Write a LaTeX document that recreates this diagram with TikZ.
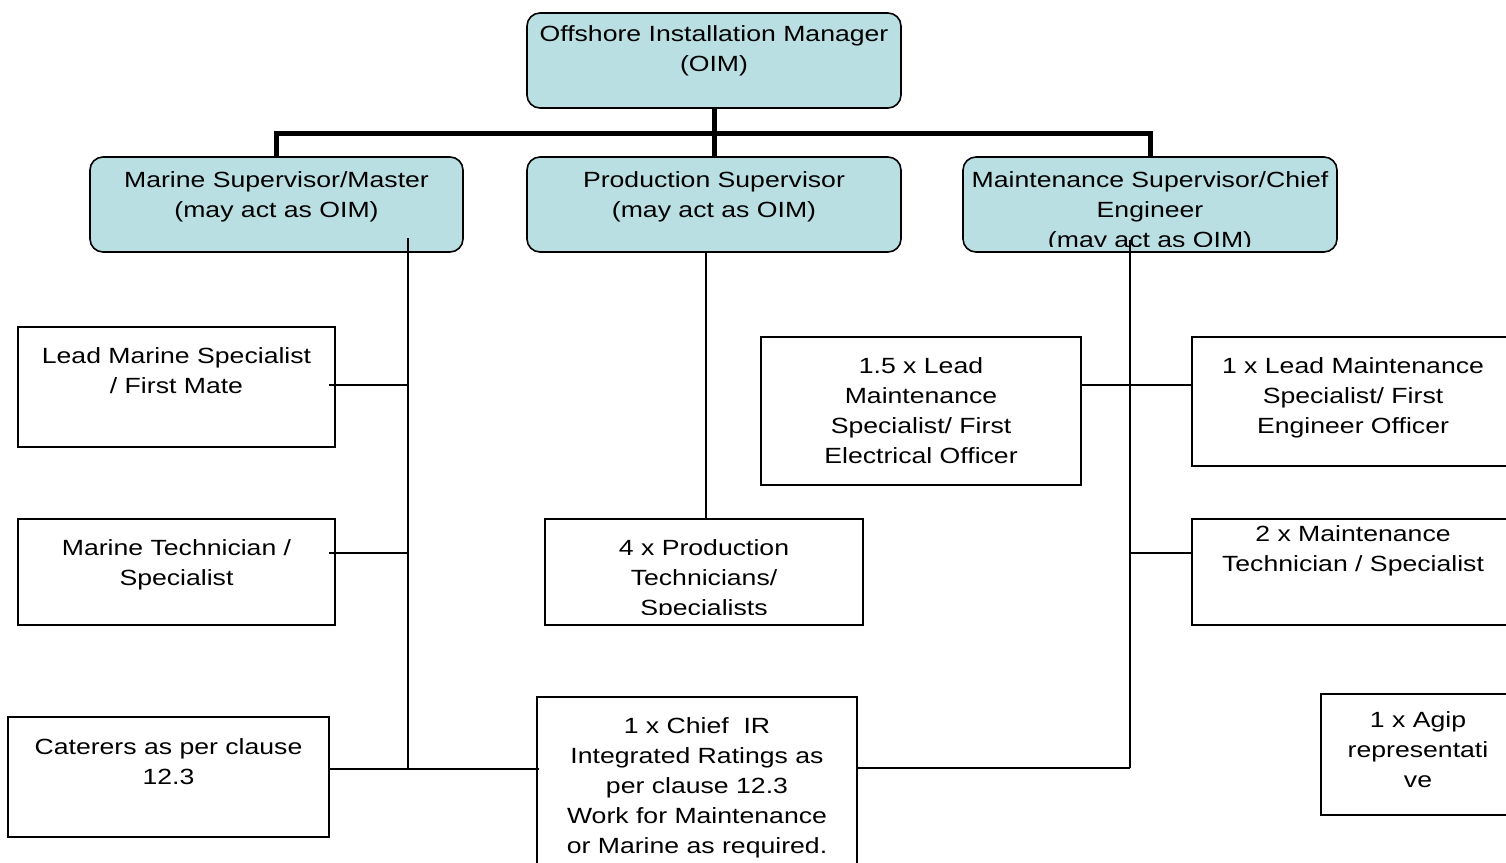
\documentclass[tikz,border=0pt]{standalone}
\usepackage{fontspec}
\setmainfont{Liberation Sans}[FakeStretch=1.21]
\definecolor{boxblue}{RGB}{186,223,226}
\begin{document}
\begin{tikzpicture}[x=1pt,y=-1pt,
  bluebox/.style={draw=black, line width=1.6pt, fill=boxblue, rounded corners=13pt, inner sep=0pt, rectangle},
  plainbox/.style={draw=black, line width=1.6pt, fill=white, inner sep=0pt, rectangle},
  lbl/.style={font=\fontsize{22}{30}\selectfont, align=center, inner sep=0pt, anchor=base},
  barline/.style={line width=5pt},
  link/.style={line width=1.6pt}]
\useasboundingbox (0,0) rectangle (1506,862);
\clip (0,0) rectangle (1506,862);
\fill[white] (0,0) rectangle (1506,862);
% boxes
\node[bluebox, minimum width=374pt, minimum height=95pt] (oim) at (714,60.5) {};
\node[bluebox, minimum width=373pt, minimum height=95pt] (msup) at (276.5,204.5) {};
\node[bluebox, minimum width=374pt, minimum height=95pt] (psup) at (714,204.5) {};
\node[bluebox, minimum width=374pt, minimum height=95pt] (mnt) at (1150,204.5) {};
\node[plainbox, minimum width=317pt, minimum height=120pt] (lms) at (176.5,387) {};
\node[plainbox, minimum width=317pt, minimum height=106pt] (mtec) at (176.5,572) {};
\node[plainbox, minimum width=321pt, minimum height=120pt] (cat) at (168.5,777) {};
\node[plainbox, minimum width=318pt, minimum height=106pt] (prod4) at (704,572) {};
\node[plainbox, minimum width=320pt, minimum height=183pt] (chief) at (697,788.5) {};
\node[plainbox, minimum width=320pt, minimum height=148pt] (lm15) at (921,411) {};
\node[plainbox, minimum width=322pt, minimum height=129pt] (lm1) at (1353,401.5) {};
\node[plainbox, minimum width=322pt, minimum height=106pt] (mtech2) at (1353,572) {};
\node[plainbox, minimum width=194pt, minimum height=121pt] (agip) at (1418,754.5) {};
% thick bar
\coordinate (hub) at (714,133.5);
\draw[barline] (oim.south) -- (hub);
\draw[barline] (msup.north) |- (hub) -| (mnt.north);
\draw[barline] (hub) -- (psup.north);
% marine branch
\coordinate (mv1) at (408,238);
\coordinate (mv0) at (408,385);
\coordinate (mv2) at (408,553);
\coordinate (mv3) at (408,769);
\draw[link] (mv1) -- (mv3);
\draw[link] ([xshift=-7pt]lms.east |- mv0) -- (mv0);
\draw[link] ([xshift=-7pt]mtec.east |- mv2) -- (mv2);
\draw[link] (cat.east |- mv3) -- ([xshift=3pt]chief.west |- mv3);
% production branch
\coordinate (pv) at (706,252);
\draw[link] (pv) -- (pv |- prod4.north);
% maintenance branch
\coordinate (nv1) at (1130,240);
\coordinate (nv0) at (1130,385);
\coordinate (nv3) at (1130,553);
\coordinate (nv2) at (1130,768);
\draw[link] (nv1) -- (nv2);
\draw[link] (chief.east |- nv2) -- (nv2);
\draw[link] (lm15.east |- nv0) -- (lm1.west |- nv0);
\draw[link] (nv3) -- (mtech2.west |- nv3);
% texts (base anchor = baseline of last line)
\node[lbl] (oimT) at (714,71) {Offshore Installation Manager\\(OIM)};
\node[lbl] (msupT) at (276.5,217) {Marine Supervisor/Master\\(may act as OIM)};
\node[lbl] (psupT) at (714,217) {Production Supervisor\\(may act as OIM)};
\begin{scope}
\clip (963,157) rectangle (1337,246.5);
\node[lbl] (mntT) at (1150,247) {Maintenance Supervisor/Chief\\Engineer\\(may act as OIM)};
\end{scope}
\node[lbl] (lmsT) at (176.5,393) {Lead Marine Specialist\\/ First Mate};
\node[lbl] (mtecT) at (176.5,585) {Marine Technician /\\Specialist};
\node[lbl] (catT) at (168.5,784) {Caterers as per clause\\12.3};
\begin{scope}
\clip (545,519) rectangle (863,614);
\node[lbl] (prod4T) at (704,615) {4 x Production\\Technicians/\\Specialists};
\end{scope}
\node[lbl] (chiefT) at (697,853) {1 x Chief~ IR\\Integrated Ratings as\\per clause 12.3\\Work for Maintenance\\or Marine as required.};
\node[lbl] (lm15T) at (921,463) {1.5 x Lead\hspace{12pt}\\Maintenance\\Specialist/ First\\Electrical Officer};
\node[lbl] (lm1T) at (1353,433) {1 x Lead Maintenance\\Specialist/ First\\Engineer Officer};
\node[lbl] (mtech2T) at (1353,571) {2 x Maintenance\\Technician / Specialist};
\node[lbl] (agipT) at (1418,787) {1 x Agip\\representati\\ve};
\end{tikzpicture}
\end{document}
